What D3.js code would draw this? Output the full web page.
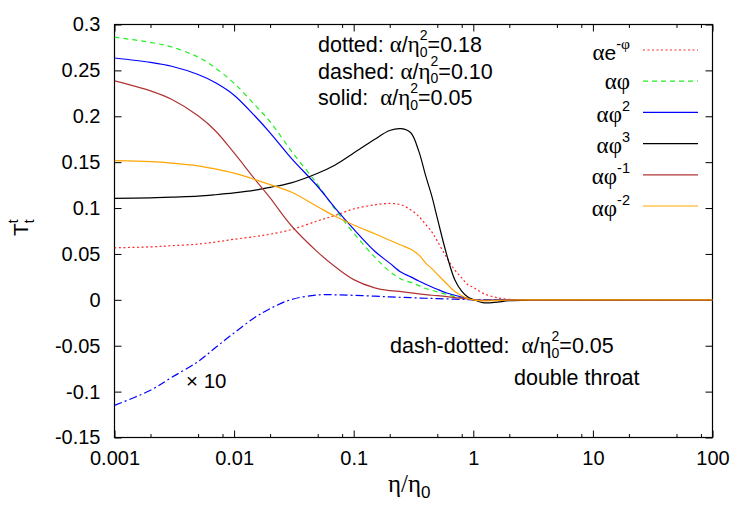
<!DOCTYPE html>
<html>
  <head>
    <meta charset="utf-8">
    <title>Energy density T^t_t</title>
    <script src="https://cdn.jsdelivr.net/npm/d3@7"></script>
    <style>
      body { margin: 0; background: #fff; }
      svg { font-family: "Liberation Sans", Arial, sans-serif; }
      .greek { font-family: "Liberation Serif", "DejaVu Serif", serif; }
    </style>
  </head>
  <body>
    <svg id="chart" width="750" height="525"></svg>

    <script>
      // shared x grid (eta / eta_0)
      let eta = [0.001, 0.002, 0.003, 0.005, 0.007, 0.01, 0.015, 0.02, 0.03, 0.05, 0.07, 0.1, 0.15, 0.2, 0.25, 0.3,
                 0.35, 0.4, 0.45, 0.5, 0.6, 0.7, 0.8, 0.9, 1, 1.2, 1.5, 2, 3, 5, 10, 100];

      // one value per grid point
      let expPhi = [0.0567, 0.0577, 0.059, 0.0607, 0.063, 0.066, 0.069, 0.0715, 0.0765, 0.086, 0.092, 0.099, 0.1035, 0.105, 0.1035, 0.098,
                    0.091, 0.082, 0.074, 0.064, 0.046, 0.0325, 0.024, 0.0165, 0.0137, 0.0073, 0.003, 0.0005, 0, 0, 0, 0];
      let phi1 = [0.2862, 0.2805, 0.2755, 0.2645, 0.2525, 0.236, 0.212, 0.194, 0.1625, 0.1255, 0.0985, 0.0727, 0.0465, 0.031, 0.0225, 0.019,
                  0.0155, 0.0123, 0.0105, 0.0086, 0.0058, 0.0035, 0.0022, 0.0011, 0, -0.0005, -0.0003, 0, 0, 0, 0, 0];
      let phi2 = [0.2635, 0.2587, 0.2545, 0.2455, 0.2365, 0.223, 0.2, 0.182, 0.1545, 0.1235, 0.1, 0.077, 0.053, 0.04, 0.03, 0.025,
                  0.0205, 0.017, 0.014, 0.0115, 0.0075, 0.005, 0.003, 0.0015, 0, -0.0006, -0.0003, 0, 0, 0, 0, 0];
      let phi3 = [0.1105, 0.1112, 0.112, 0.113, 0.1145, 0.1165, 0.1195, 0.1225, 0.1275, 0.138, 0.147, 0.16, 0.175, 0.1845, 0.1865, 0.182,
                  0.162, 0.135, 0.113, 0.089, 0.049, 0.022, 0.0095, 0.003, 0.0003, -0.003, -0.0028, -0.001, -0.0002, 0, 0, 0];
      let phiM1 = [0.2386, 0.2277, 0.2185, 0.2005, 0.184, 0.16, 0.131, 0.111, 0.081, 0.052, 0.036, 0.022, 0.013, 0.01, 0.009, 0.0075,
                   0.0065, 0.0057, 0.005, 0.0045, 0.0035, 0.0025, 0.0018, 0.0009, 0, -0.0005, -0.0003, 0, 0, 0, 0, 0];
      let phiM2 = [0.1516, 0.1505, 0.149, 0.146, 0.1425, 0.138, 0.131, 0.1255, 0.1175, 0.1015, 0.091, 0.0815, 0.072, 0.065, 0.0595, 0.0551,
                   0.049, 0.04, 0.034, 0.028, 0.0175, 0.009, 0.0045, 0.0015, 0, -0.0012, -0.0008, -0.0002, 0, 0, 0, 0];
      // double throat, multiplied by 10
      let doubleThroat = [-0.115, -0.0985, -0.0846, -0.0672, -0.052, -0.036, -0.019, -0.0096, 0.0003, 0.0053, 0.0055, 0.0049, 0.004, 0.0032, 0.0027, 0.0023,
                          0.002, 0.0017, 0.0015, 0.0013, 0.001, 0.0007, 0.0005, 0.0002, 0, 0, 0, 0, 0, 0, 0, 0];

      let xTicks = [0.001, 0.01, 0.1, 1, 10, 100];
      let xTickLabels = ["0.001", "0.01", "0.1", "1", "10", "100"];
      let xMinorTicks = [0.002, 0.005, 0.008, 0.02, 0.05, 0.08, 0.2, 0.5, 0.8, 2, 5, 8, 20, 50, 80];
      let yTicks = [-0.15, -0.1, -0.05, 0, 0.05, 0.1, 0.15, 0.2, 0.25, 0.3];
      let yTickLabels = ["-0.15", "-0.1", "-0.05", "0", "0.05", "0.1", "0.15", "0.2", "0.25", "0.3"];

      // legend entries: base text, superscript
      let keyBase = ["αe", "αφ", "αφ", "αφ", "αφ", "αφ"];
      let keySup = ["-φ", "", "2", "3", "-1", "-2"];
      let keyColours = ["#ff2a2a", "#22ee22", "#0000ff", "#000000", "#b03535", "#ffa500"];
      let keyDashes = ["2,2.5", "5,4", null, null, null, null];

      let series = [expPhi, phi1, phi2, phi3, phiM1, phiM2];

      // layout
      let frame = { left: 114.5, right: 712.5, top: 24.5, bottom: 437.5 };

      let svg = d3.select("#chart");

      let x = d3.scaleLog()
        .domain([0.001, 100])
        .range([frame.left, frame.right]);
      let y = d3.scaleLinear()
        .domain([-0.15, 0.3])
        .range([frame.bottom, frame.top]);

      // axes, ticks point inward on all four sides
      svg.append("g")
        .attr("transform", "translate(0," + frame.bottom + ")")
        .call(d3.axisBottom(x)
          .tickValues(xTicks)
          .tickFormat(function(d, i) { return xTickLabels[i]; })
          .tickSize(-7)
          .tickPadding(13));
      svg.append("g")
        .attr("transform", "translate(0," + frame.bottom + ")")
        .call(d3.axisBottom(x).tickValues(xMinorTicks).tickFormat("").tickSize(-3.5));
      svg.append("g")
        .attr("transform", "translate(0," + frame.top + ")")
        .call(d3.axisTop(x).tickValues(xTicks).tickFormat("").tickSize(-7));
      svg.append("g")
        .attr("transform", "translate(0," + frame.top + ")")
        .call(d3.axisTop(x).tickValues(xMinorTicks).tickFormat("").tickSize(-3.5));
      svg.append("g")
        .attr("transform", "translate(" + frame.left + ",0)")
        .call(d3.axisLeft(y)
          .tickValues(yTicks)
          .tickFormat(function(d, i) { return yTickLabels[i]; })
          .tickSize(-7)
          .tickPadding(14));
      svg.append("g")
        .attr("transform", "translate(" + frame.right + ",0)")
        .call(d3.axisRight(y).tickValues(yTicks).tickFormat("").tickSize(-7));

      svg.selectAll(".domain").remove();
      svg.selectAll(".tick line").attr("stroke", "#000").attr("stroke-width", 1);
      svg.selectAll(".tick text")
        .attr("font-size", 20)
        .attr("font-family", "Liberation Sans, Arial, sans-serif")
        .attr("fill", "#000");

      svg.append("rect")
        .attr("x", frame.left)
        .attr("y", frame.top)
        .attr("width", frame.right - frame.left)
        .attr("height", frame.bottom - frame.top)
        .attr("fill", "none")
        .attr("stroke", "#000")
        .attr("stroke-width", 1.2);

      // curves
      svg.append("clipPath")
        .attr("id", "plotClip")
        .append("rect")
          .attr("x", frame.left)
          .attr("y", frame.top)
          .attr("width", frame.right - frame.left)
          .attr("height", frame.bottom - frame.top);

      let line = d3.line()
        .x(function(d) { return x(d[0]); })
        .y(function(d) { return y(d[1]); })
        .curve(d3.curveCatmullRom.alpha(0.5));

      let curves = svg.append("g").attr("clip-path", "url(#plotClip)");

      curves.append("path")
        .attr("d", line(eta.map(function(e, i) { return [e, doubleThroat[i]]; })))
        .attr("fill", "none")
        .attr("stroke", "#0000ff")
        .attr("stroke-width", 1.2)
        .attr("stroke-dasharray", "8,3,2,3");

      series.forEach(function(s, k) {
        curves.append("path")
          .attr("d", line(eta.map(function(e, i) { return [e, s[i]]; })))
          .attr("fill", "none")
          .attr("stroke", keyColours[k])
          .attr("stroke-width", 1.2)
          .attr("stroke-dasharray", keyDashes[k]);
      });

      // writes text, putting greek letters in the serif face
      function addRuns(text, str, size, greekSize) {
        str.split("").forEach(function(ch) {
          let g = /[αηφ]/.test(ch);
          text.append("tspan")
            .attr("class", g ? "greek" : null)
            .attr("font-size", g ? greekSize : size)
            .text(ch);
        });
      }

      // legend
      let legendTop = 50;
      keyBase.forEach(function(b, i) {
        let ly = legendTop + i * 31.2;
        let t = svg.append("text")
          .attr("x", 630)
          .attr("y", ly + (keySup[i] ? 9.5 : 7.5))
          .attr("text-anchor", "end")
          .attr("font-size", 21);
        addRuns(t, b, 21, 23);
        if (keySup[i]) {
          let sup = t.append("tspan").attr("dy", -11);
          addRuns(sup, keySup[i], 14.5, 15.5);
        }
        svg.append("line")
          .attr("x1", 643)
          .attr("x2", 698)
          .attr("y1", ly)
          .attr("y2", ly)
          .attr("stroke", keyColours[i])
          .attr("stroke-width", 1.2)
          .attr("stroke-dasharray", keyDashes[i]);
      });

      // "alpha / eta_0^2 = value" annotations
      function ratioLabel(px, py, prefix, value) {
        let t = svg.append("text")
          .attr("x", px)
          .attr("y", py)
          .attr("font-size", 21.5)
          .attr("xml:space", "preserve");
        t.append("tspan").text(prefix);
        t.append("tspan").attr("class", "greek").attr("font-size", 23).text("α");
        t.append("tspan").text("/");
        t.append("tspan").attr("class", "greek").attr("font-size", 23).text("η");
        t.append("tspan").attr("font-size", 14).attr("dy", 4.5).text("0");
        t.append("tspan").attr("font-size", 14).attr("dx", -7.8).attr("dy", -17).text("2");
        t.append("tspan").attr("dy", 12.5).text("=" + value);
      }

      ratioLabel(318, 52, "dotted: ", "0.18");
      ratioLabel(318, 78.5, "dashed: ", "0.10");
      ratioLabel(318, 105, "solid:  ", "0.05");
      ratioLabel(390, 353, "dash-dotted:  ", "0.05");

      svg.append("text")
        .attr("x", 514)
        .attr("y", 385)
        .attr("font-size", 21.5)
        .text("double throat");

      svg.append("text")
        .attr("x", 186)
        .attr("y", 388)
        .attr("font-size", 20.5)
        .text("× 10");

      // axis titles
      let xTitle = svg.append("text")
        .attr("x", 388)
        .attr("y", 492)
        .attr("font-size", 25);
      xTitle.append("tspan").attr("class", "greek").text("η/η");
      xTitle.append("tspan").attr("font-size", 17).attr("dy", 6).text("0");

      let yTitle = svg.append("text")
        .attr("transform", "translate(28,236) rotate(-90)")
        .attr("font-size", 21);
      yTitle.append("tspan").text("T");
      yTitle.append("tspan").attr("font-size", 14).attr("dy", -10).text("t");
      yTitle.append("tspan").attr("font-size", 14).attr("dx", -4).attr("dy", 16).text("t");
    </script>
  </body>
</html>
